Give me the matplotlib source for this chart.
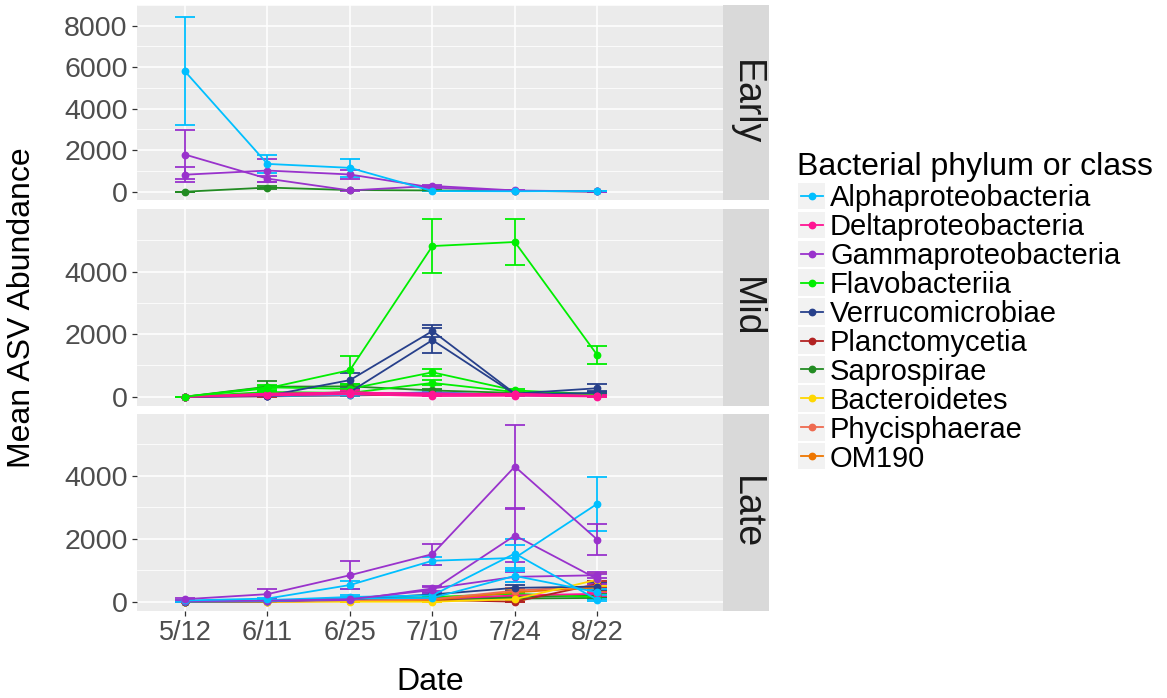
import numpy as np
import matplotlib
matplotlib.use("Agg")
import matplotlib.pyplot as plt
from matplotlib.patches import Rectangle

# x categories (sampling dates)
dates = ["5/12", "6/11", "6/25", "7/10", "7/24", "8/22"]

# legend order and colours
classes = ["Alphaproteobacteria", "Deltaproteobacteria", "Gammaproteobacteria",
           "Flavobacteriia", "Verrucomicrobiae", "Planctomycetia", "Saprospirae",
           "Bacteroidetes", "Phycisphaerae", "OM190"]
class_colors = ["#00BFFF", "#FF1493", "#9932CC", "#00EE00", "#27408B",
                "#B22222", "#228B22", "#FFD700", "#EE6A50", "#EE7600"]

# Early panel: one line per ASV
early_class = ["Saprospirae", "Gammaproteobacteria", "Gammaproteobacteria",
               "Alphaproteobacteria"]
early_mean = [[0, 200, 80, 60, 40, 10],
              [1790, 630, 60, 280, 60, 10],
              [820, 1020, 830, 200, 40, 10],
              [5800, 1340, 1150, 30, 20, 30]]
early_se = [[0, 60, 20, 20, 10, 5],
            [1170, 150, 30, 60, 20, 5],
            [360, 560, 240, 40, 15, 5],
            [2600, 430, 450, 20, 10, 10]]

# Mid panel
mid_class = ["Planctomycetia", "Alphaproteobacteria", "Gammaproteobacteria",
             "Saprospirae", "Flavobacteriia", "Flavobacteriia",
             "Verrucomicrobiae", "Verrucomicrobiae", "Deltaproteobacteria",
             "Deltaproteobacteria", "Deltaproteobacteria", "Flavobacteriia"]
mid_mean = [[0, 10, 40, 80, 60, 30],
            [0, 20, 50, 150, 40, 20],
            [0, 30, 100, 120, 60, 40],
            [0, 320, 330, 200, 120, 60],
            [0, 150, 120, 440, 150, 50],
            [0, 300, 250, 780, 200, 80],
            [0, 20, 150, 1810, 80, 120],
            [0, 30, 530, 2100, 100, 270],
            [0, 100, 130, 100, 80, 30],
            [0, 60, 150, 60, 100, 10],
            [0, 40, 80, 20, 30, 5],
            [0, 270, 850, 4820, 4950, 1330]]
mid_se = [[0, 5, 15, 30, 20, 10],
          [0, 10, 20, 50, 15, 10],
          [0, 10, 40, 40, 20, 15],
          [0, 180, 80, 50, 40, 20],
          [0, 40, 40, 80, 40, 20],
          [0, 60, 80, 120, 50, 30],
          [0, 10, 60, 400, 40, 50],
          [0, 10, 240, 200, 50, 130],
          [0, 30, 40, 40, 30, 10],
          [0, 20, 50, 30, 40, 5],
          [0, 15, 30, 10, 10, 5],
          [0, 80, 450, 850, 730, 285]]

# Late panel
late_class = ["Saprospirae", "Saprospirae", "Flavobacteriia", "Deltaproteobacteria",
              "Planctomycetia", "OM190", "Phycisphaerae", "Bacteroidetes",
              "Verrucomicrobiae", "Gammaproteobacteria", "Alphaproteobacteria",
              "Alphaproteobacteria", "Gammaproteobacteria", "Alphaproteobacteria",
              "Gammaproteobacteria"]
late_mean = [[0, 20, 100, 120, 150, 200],
             [0, 10, 60, 80, 100, 120],
             [0, 30, 60, 150, 250, 150],
             [0, 10, 40, 80, 200, 250],
             [0, 10, 30, 60, 0, 560],
             [0, 0, 20, 60, 300, 450],
             [0, 0, 30, 80, 350, 500],
             [0, 0, 0, 0, 80, 700],
             [0, 10, 80, 230, 440, 480],
             [10, 20, 50, 420, 790, 840],
             [10, 20, 100, 120, 820, 300],
             [20, 50, 150, 200, 1530, 60],
             [20, 30, 80, 370, 2100, 720],
             [40, 100, 530, 1300, 1390, 3110],
             [80, 240, 840, 1510, 4290, 1970]]
late_se = [[0, 10, 30, 40, 50, 60],
           [0, 5, 20, 30, 40, 40],
           [0, 10, 20, 50, 60, 50],
           [0, 5, 15, 30, 60, 70],
           [0, 5, 10, 20, 0, 100],
           [0, 0, 10, 20, 80, 100],
           [0, 0, 10, 30, 90, 100],
           [0, 0, 0, 0, 40, 200],
           [0, 5, 30, 60, 100, 100],
           [5, 5, 20, 80, 150, 100],
           [5, 10, 40, 40, 200, 100],
           [10, 20, 50, 60, 450, 30],
           [10, 10, 30, 100, 840, 150],
           [20, 30, 135, 130, 400, 860],
           [40, 150, 440, 330, 1330, 500]]

panel_names = ["Early", "Mid", "Late"]

plt.rcParams['font.family'] = ['Liberation Sans', 'DejaVu Sans']

W, H = 1167, 698
fig = plt.figure(figsize=(W / 100, H / 100), dpi=100)


def box(l, t, r, b):
    # pixel box -> figure fraction rect
    return [l / W, 1 - b / H, (r - l) / W, (b - t) / H]


color_of = dict(zip(classes, class_colors))
x = np.arange(len(dates))

panels = [
    (early_class, early_mean, early_se, (5, 200), (-400, 8810), [0, 2000, 4000, 6000, 8000]),
    (mid_class, mid_mean, mid_se, (209, 406), (-298, 6006), [0, 2000, 4000]),
    (late_class, late_mean, late_se, (414, 611), (-295, 5959), [0, 2000, 4000]),
]

for i, (cls, means, ses, (top, bot), ylim, yt) in enumerate(panels):
    ax = fig.add_axes(box(137, top, 723, bot))
    ax.set_facecolor("#EBEBEB")
    for s in ax.spines.values():
        s.set_visible(False)
    ax.set_xlim(-0.582, 6.524)
    ax.set_ylim(*ylim)
    ax.set_xticks(x)
    ax.set_yticks(yt)
    ax.set_yticks([v + 1000 for v in yt], minor=True)
    ax.grid(which="major", color="white", lw=1.1)
    ax.grid(which="minor", axis="y", color="white", lw=0.55)
    ax.set_axisbelow(True)
    ax.tick_params(which="minor", length=0)
    ax.tick_params(axis="y", length=3.8, width=0.9, color="#333333",
                   labelsize=20.5, labelcolor="#4D4D4D", pad=3)
    ax.set_yticklabels([str(v) for v in yt])
    if i == 2:
        ax.set_xticklabels(dates)
        ax.tick_params(axis="x", length=3.8, width=0.9, color="#333333",
                       labelsize=19.5, labelcolor="#4D4D4D", pad=3)
    else:
        ax.tick_params(axis="x", length=0, labelbottom=False)

    for c, m, e in zip(cls, means, ses):
        col = color_of[c]
        ax.errorbar(x, m, yerr=e, color=col, lw=1.3, marker="o", ms=4.6,
                    capsize=7.4, capthick=1.3, elinewidth=1.3)

    # facet strip
    st = fig.add_axes(box(723, top, 769, bot))
    st.set_facecolor("#D9D9D9")
    st.set_xticks([])
    st.set_yticks([])
    for s in st.spines.values():
        s.set_visible(False)
    st.text(0.5, 0.5, panel_names[i], rotation=-90, ha="center", va="center",
            fontsize=27, color="#1A1A1A", transform=st.transAxes)

# overlay in pixel coordinates for titles and legend
ov = fig.add_axes([0, 0, 1, 1])
ov.set_xlim(0, W)
ov.set_ylim(H, 0)
ov.axis("off")

ov.text(22, 308, "Mean ASV Abundance", rotation=90, ha="center", va="center",
        fontsize=23, color="black")
ov.text(430, 682, "Date", ha="center", va="center", fontsize=23, color="black")

ov.text(797, 175, "Bacterial phylum or class", ha="left", va="baseline",
        fontsize=23, color="black")
for k, (c, col) in enumerate(zip(classes, class_colors)):
    yc = 196 + k * 28.9
    ov.add_patch(Rectangle((797.7, yc - 13.3), 27.3, 26.6, facecolor="#F2F2F2",
                           edgecolor="none"))
    ov.plot([800.5, 822.5], [yc, yc], color=col, lw=1.3)
    ov.plot([811.5], [yc], marker="o", ms=4.6, color=col)
    ov.text(830, yc + 10.5, c, ha="left", va="baseline", fontsize=21,
            color="black")

fig.savefig("out.png", dpi=100)
